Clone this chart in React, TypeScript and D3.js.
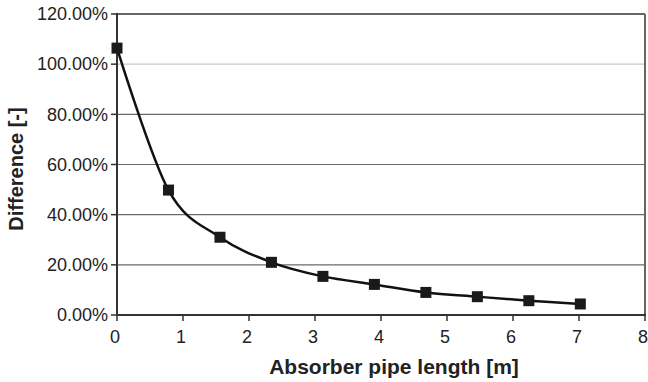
import React from "react";
import * as d3 from "d3";

const lengths = [0, 0.78, 1.56, 2.34, 3.12, 3.9, 4.68, 5.46, 6.24, 7.02];
const differences = [106.4, 49.8, 31.0, 21.0, 15.4, 12.2, 9.0, 7.3, 5.7, 4.4];
const yTicks = [0, 20, 40, 60, 80, 100, 120];
const xTicks = [0, 1, 2, 3, 4, 5, 6, 7, 8];

const W = 648, H = 382;
const M = { left: 117, right: 645, top: 14, bottom: 315 };

export default function App() {
  const x = d3.scaleLinear().domain([0, 8]).range([M.left, M.right]);
  const y = d3.scaleLinear().domain([0, 120]).range([M.bottom, M.top]);
  const pts = lengths.map((l, i) => [l, differences[i]] as [number, number]);
  const line = d3.line<[number, number]>()
    .x(d => x(d[0]))
    .y(d => y(d[1]))
    .curve(d3.curveCardinal.tension(0));
  const font = "'Liberation Sans', Arial, sans-serif";
  return (
    <svg width={W} height={H} style={{ position: "absolute", left: 0, top: 0, background: "#fff" }}
      fontFamily={font}>
      {yTicks.filter(t => t > 0).map(t => (
        <line key={"g" + t} x1={M.left} x2={M.right} y1={y(t)} y2={y(t)}
          stroke={t === 100 ? "#c8c8c8" : t === 120 ? "#666" : "#6a6a6a"} strokeWidth={t === 120 ? 2 : 1.2} />
      ))}
      <line x1={M.right} x2={M.right} y1={M.top} y2={M.bottom} stroke="#666" strokeWidth={2} />
      <line x1={M.left} x2={M.left} y1={M.top - 1} y2={M.bottom} stroke="#333" strokeWidth={2} />
      <line x1={M.left} x2={M.right + 1} y1={M.bottom} y2={M.bottom} stroke="#333" strokeWidth={2} />
      {yTicks.map(t => (
        <g key={"y" + t}>
          <line x1={M.left - 6} x2={M.left} y1={y(t)} y2={y(t)} stroke="#333" strokeWidth={1.5} />
          <text x={M.left - 9} y={y(t)} dy="0.35em" textAnchor="end" fontSize={18} fill="#222">
            {t.toFixed(2) + "%"}
          </text>
        </g>
      ))}
      {xTicks.map(t => (
        <g key={"x" + t}>
          <line x1={x(t)} x2={x(t)} y1={M.bottom} y2={M.bottom + 6} stroke="#333" strokeWidth={1.5} />
          <text x={x(t) - 2} y={M.bottom + 28} textAnchor="middle" fontSize={18} fill="#222">{t}</text>
        </g>
      ))}
      <path d={line(pts) || ""} fill="none" stroke="#111" strokeWidth={2.5} />
      {pts.map((p, i) => (
        <rect key={"m" + i} x={x(p[0]) - 5.5} y={y(p[1]) - 5.5} width={11} height={11} fill="#1a1a1a" />
      ))}
      <text x={394} y={374} textAnchor="middle" fontSize={21} fontWeight="bold" fill="#222">
        Absorber pipe length [m]
      </text>
      <text transform={`translate(23,${169}) rotate(-90)`} textAnchor="middle" fontSize={20}
        fontWeight="bold" fill="#222">Difference [-]</text>
    </svg>
  );
}
